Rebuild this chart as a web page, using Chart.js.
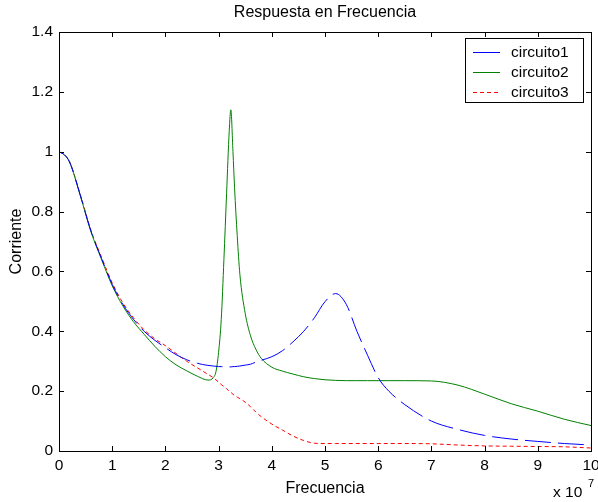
<!DOCTYPE html>
<html>
<head>
<meta charset="utf-8">
<script src="https://cdn.jsdelivr.net/npm/chart.js@4/dist/chart.umd.min.js"></script>
<style>
  html, body { margin: 0; padding: 0; background: #fff; }
  #wrap { width: 598px; height: 502px; }
</style>
</head>
<body>
<div id="wrap"><canvas id="c" width="598" height="502"></canvas></div>
<script>
// ---- data ----
const freq = [0, 0.1, 0.2, 0.4, 0.6, 0.8, 1.0, 1.2, 1.4, 1.6, 1.8, 2.0, 2.2, 2.4, 2.6, 2.8, 2.9, 2.95, 3.0, 3.05, 3.1, 3.15, 3.2, 3.23, 3.27, 3.3, 3.35, 3.4, 3.5, 3.6, 3.7, 3.8, 4.0, 4.2, 4.4, 4.6, 4.8, 5.0, 5.2, 5.4, 5.6, 5.8, 6.0, 6.2, 6.5, 7.0, 7.5, 8.0, 8.5, 9.0, 9.5, 10.0];
const circuito1 = [1.0, 0.99, 0.965, 0.855, 0.735, 0.643, 0.557, 0.49, 0.44, 0.40, 0.37, 0.345, 0.322, 0.305, 0.293, 0.286, 0.284, 0.283, 0.282, 0.282, 0.281, 0.281, 0.281, 0.281, 0.282, 0.282, 0.283, 0.284, 0.287, 0.290, 0.297, 0.303, 0.315, 0.335, 0.365, 0.40, 0.445, 0.499, 0.526, 0.49, 0.40, 0.32, 0.245, 0.20, 0.155, 0.10, 0.072, 0.052, 0.040, 0.032, 0.025, 0.02];
const circuito2 = [1.0, 0.99, 0.965, 0.853, 0.733, 0.64, 0.552, 0.485, 0.432, 0.39, 0.35, 0.315, 0.288, 0.268, 0.25, 0.237, 0.245, 0.265, 0.33, 0.44, 0.64, 0.86, 1.07, 1.14, 1.0, 0.88, 0.72, 0.59, 0.46, 0.385, 0.34, 0.31, 0.28, 0.267, 0.257, 0.248, 0.242, 0.238, 0.236, 0.235, 0.235, 0.235, 0.235, 0.235, 0.235, 0.234, 0.22, 0.19, 0.158, 0.133, 0.106, 0.085];
const circuito3 = [1.0, 0.99, 0.966, 0.857, 0.738, 0.647, 0.562, 0.495, 0.445, 0.405, 0.375, 0.352, 0.326, 0.30, 0.278, 0.256, 0.245, 0.238, 0.23, 0.222, 0.215, 0.208, 0.20, 0.196, 0.19, 0.185, 0.18, 0.175, 0.163, 0.148, 0.13, 0.115, 0.09, 0.07, 0.05, 0.035, 0.026, 0.025, 0.025, 0.025, 0.025, 0.025, 0.025, 0.025, 0.025, 0.024, 0.02, 0.017, 0.016, 0.015, 0.014, 0.01];
const seriesNames = ['circuito1', 'circuito2', 'circuito3'];
const xTickLabels = ['0', '1', '2', '3', '4', '5', '6', '7', '8', '9', '10'];
const yTickLabels = ['0', '0.2', '0.4', '0.6', '0.8', '1', '1.2', '1.4'];
const chartTitle = 'Respuesta en Frecuencia';

const FONT = '"Liberation Sans", Arial, Helvetica, sans-serif';
const TICK_SIZE = 15.5;
const LABEL_SIZE = 16;
Chart.defaults.font.family = FONT;
Chart.defaults.font.size = TICK_SIZE;
Chart.defaults.color = '#000';

function pts(vals) { return freq.map((f, i) => ({ x: f, y: vals[i] })); }

const styles = [
  { color: '#0000ff', dash: [26, 7] },
  { color: '#008000', dash: [] },
  { color: '#ff0000', dash: [4, 3] }
];
const seriesVals = [circuito1, circuito2, circuito3];

const datasets = seriesVals.map((v, i) => ({
  label: seriesNames[i],
  data: pts(v),
  borderColor: styles[i].color,
  backgroundColor: styles[i].color,
  borderDash: styles[i].dash,
  borderWidth: 1,
  pointRadius: 0,
  cubicInterpolationMode: 'monotone',
  fill: false
}));

const boxPlugin = {
  id: 'matlabBox',
  afterDraw(chart) {
    const ctx = chart.ctx;
    const a = chart.chartArea;
    const xs = chart.scales.x, ys = chart.scales.y;
    ctx.save();
    ctx.strokeStyle = '#000';
    ctx.lineWidth = 1;
    ctx.setLineDash([]);
    // box
    ctx.strokeRect(Math.round(a.left) + 0.5, Math.round(a.top) + 0.5, Math.round(a.right - a.left), Math.round(a.bottom - a.top));
    // inward ticks
    const tl = 5;
    ctx.beginPath();
    xTickLabels.forEach(t => {
      const px = Math.round(xs.getPixelForValue(parseFloat(t))) + 0.5;
      ctx.moveTo(px, a.bottom); ctx.lineTo(px, a.bottom - tl);
      ctx.moveTo(px, a.top); ctx.lineTo(px, a.top + tl);
    });
    yTickLabels.forEach(t => {
      const py = Math.round(ys.getPixelForValue(parseFloat(t))) + 0.5;
      ctx.moveTo(a.left, py); ctx.lineTo(a.left + tl, py);
      ctx.moveTo(a.right, py); ctx.lineTo(a.right - tl, py);
    });
    ctx.stroke();

    // title centred over the axes
    ctx.fillStyle = '#000';
    ctx.textAlign = 'center';
    ctx.textBaseline = 'middle';
    ctx.font = LABEL_SIZE + 'px ' + FONT;
    ctx.fillText(chartTitle, (a.left + a.right) / 2, 13);

    // exponent label
    ctx.textBaseline = 'middle';
    ctx.textAlign = 'left';
    ctx.font = TICK_SIZE + 'px ' + FONT;
    ctx.fillText('x 10', 553, 493);
    ctx.font = '11px ' + FONT;
    ctx.fillText('7', 588, 484);

    // legend
    const lx = 465, ly = 38, lw = 118, lh = 64;
    ctx.fillStyle = '#fff';
    ctx.fillRect(lx, ly, lw, lh);
    ctx.strokeStyle = '#000';
    ctx.strokeRect(lx + 0.5, ly + 0.5, lw, lh);
    chart.data.datasets.forEach((ds, i) => {
      const y = 52 + i * 20 + 0.5;
      ctx.strokeStyle = ds.borderColor;
      ctx.setLineDash(ds.borderDash && ds.borderDash.length && ds.borderDash[0] < 10 ? ds.borderDash : []);
      ctx.beginPath();
      ctx.moveTo(473, y); ctx.lineTo(500, y);
      ctx.stroke();
      ctx.setLineDash([]);
      ctx.fillStyle = '#000';
      ctx.font = TICK_SIZE + 'px ' + FONT;
      ctx.textAlign = 'left';
      ctx.textBaseline = 'middle';
      ctx.fillText(ds.label, 511, y);
    });
    ctx.restore();
  }
};

new Chart(document.getElementById('c'), {
  type: 'line',
  data: { datasets },
  options: {
    responsive: false,
    animation: false,
    layout: { padding: { left: 0, right: 7, top: 32, bottom: 0 } },
    plugins: {
      legend: { display: false },
      tooltip: { enabled: false },
      title: { display: false }
    },
    scales: {
      x: {
        type: 'linear',
        min: 0, max: 10,
        grid: { display: false, drawTicks: false },
        border: { display: false },
        ticks: {
          stepSize: 1,
          padding: 5,
          maxRotation: 0,
          callback: (v) => { const i = Math.round(v); return xTickLabels[i]; }
        },
        title: { display: true, text: 'Frecuencia', font: { size: LABEL_SIZE }, padding: { top: 0, bottom: 4 } },
        afterFit(scale) { scale.height = 51; scale.paddingLeft = 0; scale.paddingRight = 0; }
      },
      y: {
        type: 'linear',
        min: 0, max: 1.4,
        grid: { display: false, drawTicks: false },
        border: { display: false },
        ticks: {
          stepSize: 0.2,
          padding: 6,
          callback: (v) => { const i = Math.round(v / 0.2); return yTickLabels[i]; }
        },
        title: { display: true, text: 'Corriente', font: { size: LABEL_SIZE }, padding: { top: 7.4, bottom: 0 } },
        afterFit(scale) { scale.width = 59; scale.paddingTop = 0; scale.paddingBottom = 0; }
      }
    }
  },
  plugins: [boxPlugin]
});
</script>
</body>
</html>
